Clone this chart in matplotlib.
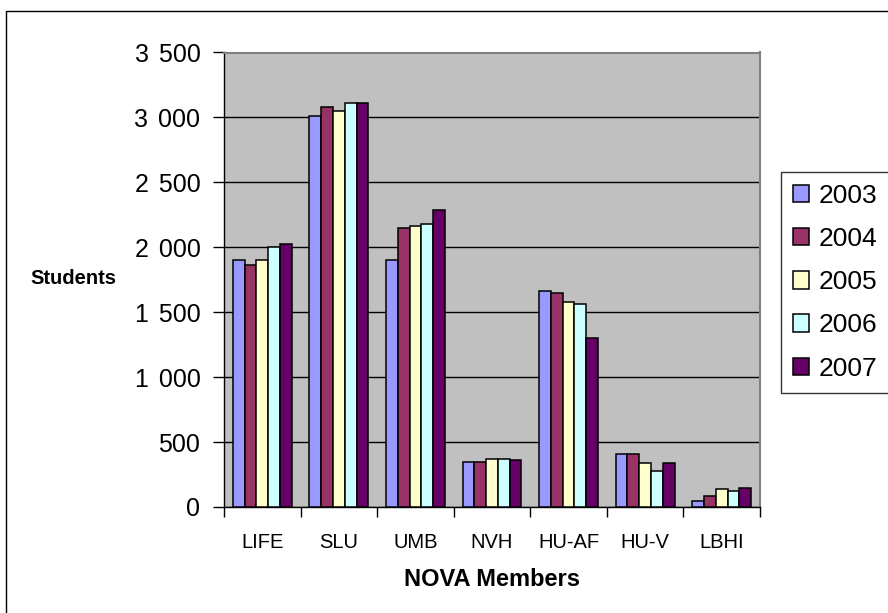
import matplotlib
matplotlib.use("Agg")
import matplotlib.pyplot as plt
import matplotlib.patches as mpatches
import numpy as np

plt.rcParams['font.family'] = ['Liberation Sans', 'DejaVu Sans']

categories = ["LIFE", "SLU", "UMB", "NVH", "HU-AF", "HU-V", "LBHI"]
years = ["2003", "2004", "2005", "2006", "2007"]
v2003 = [1900, 3010, 1900, 345, 1665, 410, 45]
v2004 = [1860, 3080, 2150, 345, 1650, 410, 85]
v2005 = [1900, 3050, 2165, 370, 1580, 335, 135]
v2006 = [2000, 3110, 2180, 370, 1565, 275, 125]
v2007 = [2025, 3110, 2290, 360, 1300, 335, 150]
series = [v2003, v2004, v2005, v2006, v2007]
colors = ["#9999FF", "#993366", "#FFFFCC", "#CCFFFF", "#660066"]
yticks = [0, 500, 1000, 1500, 2000, 2500, 3000, 3500]

W, H = 888, 613
fig = plt.figure(figsize=(W / 100, H / 100), dpi=100)
fig.patch.set_facecolor("white")

L, R, T, B = 224, 760, 52.5, 507
ax = fig.add_axes([L / W, 1 - B / H, (R - L) / W, (B - T) / H])
ax.set_facecolor("#C0C0C0")

x = np.arange(len(categories))
bw = 1 / 6.5
for i, (vals, c, yr) in enumerate(zip(series, colors, years)):
    ax.bar(x + (i - 2) * bw, vals, width=bw, color=c, edgecolor="black",
           linewidth=1.1, label=yr, zorder=3)

ax.set_xlim(-0.5, len(categories) - 0.5)
ax.set_ylim(0, 3500)
ax.set_yticks(yticks)
ax.set_yticklabels([f"{v:,}".replace(",", "\u2009\u2009") for v in yticks], fontsize=18)
ax.set_xticks(x)
ax.set_xticklabels(categories, fontsize=14.5)
ax.set_xticks(np.arange(len(categories) + 1) - 0.5, minor=True)
ax.tick_params(axis="x", which="major", length=0, pad=19)
ax.tick_params(axis="x", which="minor", length=7, width=1, color="black", direction="out")
ax.tick_params(axis="y", length=8, width=1, color="black", direction="out", pad=9)
ax.yaxis.grid(True, color="black", linewidth=1, zorder=1)
ax.set_axisbelow(True)

for s in ["top", "right"]:
    ax.spines[s].set_color("#808080")
    ax.spines[s].set_linewidth(1.5)
for s in ["left", "bottom"]:
    ax.spines[s].set_color("black")
    ax.spines[s].set_linewidth(1)

ax.set_xlabel("NOVA Members", fontsize=17, fontweight="bold", va="center")
ax.xaxis.set_label_coords(0.5, (B - 580) / (B - T))
ax.set_ylabel("Students", fontsize=14.5, fontweight="bold", rotation=0,
              ha="center", va="center")
ax.yaxis.set_label_coords((73.5 - L) / (R - L), (B - 279) / (B - T))

leg = fig.legend(loc="upper left", bbox_to_anchor=(780.7 / W, 1 - 171.7 / H),
                 fontsize=19, frameon=True, fancybox=False, shadow=False,
                 handlelength=0.64, handleheight=0.64, handletextpad=0.34,
                 borderpad=0.45, labelspacing=0.73, borderaxespad=0)
leg.get_frame().set_edgecolor("black")
leg.get_frame().set_linewidth(1)
for hnd in leg.legend_handles:
    hnd.set_linewidth(1.1)

frame = mpatches.Rectangle((6 / W, -0.1), 2, 1 - 11 / H + 0.1, transform=fig.transFigure,
                           fill=False, edgecolor="black", linewidth=1)
fig.add_artist(frame)

fig.savefig("out.png", dpi=100)
